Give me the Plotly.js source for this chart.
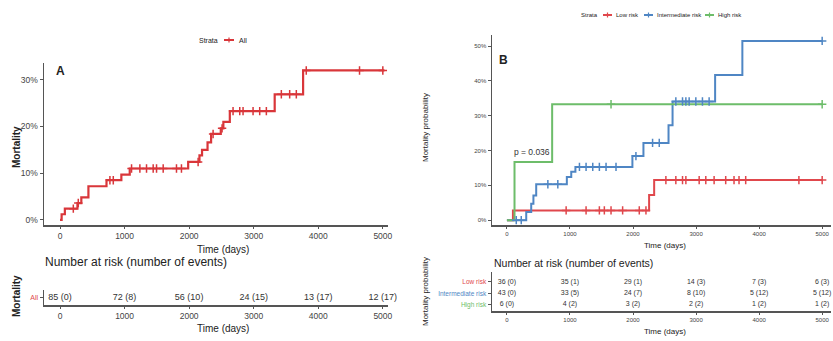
<!DOCTYPE html>
<html><head><meta charset="utf-8">
<script src="https://cdn.plot.ly/plotly-3.0.1.min.js"></script>
<style>html,body{margin:0;padding:0;background:#fff}#c{width:833px;height:341px}</style>
</head><body><div id="c"></div>
<script>
// ---------- DATA ----------
// Panel A: overall cumulative mortality (%)
const allTime = [0, 25, 75, 270, 330, 440, 720, 950, 1080, 1985, 2160, 2200, 2285, 2340, 2490, 2530, 2630, 3325, 3765, 5025];
const allMort = [0, 1.2, 2.4, 3.6, 4.8, 7.2, 8.5, 9.7, 11.0, 12.4, 13.8, 15.0, 16.6, 18.4, 19.6, 21.0, 23.3, 26.9, 32.0, 32.0];
const allCensor = [206, 283, 773, 825, 1108, 1237, 1340, 1443, 1495, 1598, 1804, 1881, 2139, 2371, 2510, 2680, 2784, 2835, 2990, 3093, 3196, 3428, 3557, 3660, 3814, 4639, 5000];

// Panel B: by risk group (%)
const lowTime = [0, 95, 2255, 2335, 5000];
const lowMort = [0, 2.8, 7.2, 11.5, 11.5];
const lowCensor = [939, 1255, 1466, 1545, 1651, 1835, 2099, 2205, 2521, 2679, 2785, 2838, 3049, 3154, 3286, 3470, 3602, 3681, 3787, 4631, 5000];

const intTime = [0, 306, 385, 420, 464, 950, 1020, 1086, 1990, 2165, 2563, 2627, 3302, 3734, 5000];
const intMort = [0, 2.3, 4.7, 7.1, 10.3, 12.4, 13.9, 15.3, 18.4, 22.2, 27.3, 34.1, 41.7, 51.5, 51.5];
const intCensor = [148, 227, 649, 807, 1150, 1255, 1361, 1466, 1572, 1730, 2046, 2310, 2416, 2679, 2785, 2838, 2890, 2996, 3101, 3207, 5000];

const highTime = [0, 120, 717, 5000];
const highMort = [0, 16.7, 33.3, 33.3];
const highCensor = [1651, 5000];

// Axis ticks
const timeTicks = [0, 1000, 2000, 3000, 4000, 5000];
const yTicksA = [0, 10, 20, 30];
const yTicksB = [0, 10, 20, 30, 40, 50];

// Risk tables
const riskTimes = [0, 1000, 2000, 3000, 4000, 5000];
const riskAll = ["85 (0)", "72 (8)", "56 (10)", "24 (15)", "13 (17)", "12 (17)"];
const riskLow = ["36 (0)", "35 (1)", "29 (1)", "14 (3)", "7 (3)", "6 (3)"];
const riskInt = ["43 (0)", "33 (5)", "24 (7)", "8 (10)", "5 (12)", "5 (12)"];
const riskHigh = ["6 (0)", "4 (2)", "3 (2)", "2 (2)", "1 (2)", "1 (2)"];
const groupNames = ["Low risk", "Intermediate risk", "High risk"];
const pText = "p = 0.036";
const pPos = [110, 19.3];

// ---------- STYLE ----------
const W = 833, H = 341;
const px = x => x / W, py = y => 1 - y / H;
const RED = '#e0474c', BLUE = '#4f86c4', GREEN = '#6dbd6a', RED_A = '#d9363a';
const FONT = 'Liberation Sans, Arial, sans-serif';
const AX = '#555';

function stepAt(ts, vs, t) { let v = vs[0]; for (let i = 0; i < ts.length; i++) if (ts[i] <= t) v = vs[i]; return v; }
function curve(ts, vs, col, xa, ya, w) {
  return {x: ts, y: vs, type: 'scatter', mode: 'lines', line: {shape: 'hv', color: col, width: w || 2},
          xaxis: xa, yaxis: ya, hoverinfo: 'skip', showlegend: false, cliponaxis: false};
}
function cens(cs, ts, vs, col, xa, ya) {
  return {x: cs, y: cs.map(t => stepAt(ts, vs, t)), type: 'scatter', mode: 'markers',
          marker: {symbol: 'cross-thin-open', size: 6, color: col, line: {color: col, width: 1.5}},
          xaxis: xa, yaxis: ya, hoverinfo: 'skip', showlegend: false, cliponaxis: false};
}
function riskRow(texts, row, xa, ya, size, col) {
  return {x: riskTimes, y: riskTimes.map(() => row), text: texts, type: 'scatter', mode: 'text',
          textposition: 'middle center', textfont: {family: FONT, size: size, color: col || '#333'},
          xaxis: xa, yaxis: ya, hoverinfo: 'skip', showlegend: false, cliponaxis: false};
}

const traces = [
  curve(allTime, allMort, RED_A, 'x', 'y', 2.2),
  cens(allCensor, allTime, allMort, RED_A, 'x', 'y'),
  curve(lowTime, lowMort, RED, 'x3', 'y3'),
  curve(intTime, intMort, BLUE, 'x3', 'y3'),
  curve(highTime, highMort, GREEN, 'x3', 'y3'),
  cens(lowCensor, lowTime, lowMort, RED, 'x3', 'y3'),
  cens(intCensor, intTime, intMort, BLUE, 'x3', 'y3'),
  cens(highCensor, highTime, highMort, GREEN, 'x3', 'y3'),
  {x: [pPos[0]], y: [pPos[1]], text: [pText], type: 'scatter', mode: 'text', textposition: 'middle right',
   textfont: {family: FONT, size: 8.5, color: '#333'}, xaxis: 'x3', yaxis: 'y3', hoverinfo: 'skip', showlegend: false},
  riskRow(riskAll, 0, 'x2', 'y2', 9),
  riskRow(riskLow, 2, 'x4', 'y4', 7),
  riskRow(riskInt, 1, 'x4', 'y4', 7),
  riskRow(riskHigh, 0, 'x4', 'y4', 7),
];

function xax(dom, range, fs, anchor) {
  return {domain: dom, range: range, anchor: anchor, showline: true, linecolor: AX, linewidth: 1.5, showgrid: false, zeroline: false,
          ticks: 'outside', ticklen: 2, tickcolor: AX, tickwidth: 1, tickvals: timeTicks,
          tickfont: {family: FONT, size: fs, color: '#444'}, fixedrange: true};
}
function yax(dom, range, fs, anchor, extra) {
  return Object.assign({domain: dom, range: range, anchor: anchor, showline: true, linecolor: AX, linewidth: 1.5, showgrid: false, zeroline: false,
          ticks: 'outside', ticklen: 3, tickcolor: AX, tickwidth: 1,
          tickfont: {family: FONT, size: fs, color: '#444'}, fixedrange: true}, extra || {});
}

const domA = [px(44), px(388)], domB = [px(492), px(831)];
const layout = {
  width: W, height: H, margin: {l: 0, r: 0, t: 0, b: 0}, paper_bgcolor: '#fff', plot_bgcolor: 'rgba(0,0,0,0)',
  showlegend: false, font: {family: FONT},
  xaxis: xax(domA, [-248, 5080], 8.5, 'y'),
  yaxis: yax([py(225), py(63)], [-1.1, 33.6], 8.5, 'x', {tickvals: yTicksA, ticktext: yTicksA.map(v => v + '%')}),
  xaxis2: xax(domA, [-248, 5080], 8.5, 'y2'),
  yaxis2: yax([py(305), py(290)], [-0.5, 0.5], 8, 'x2', {tickvals: [0], ticktext: ['All'], tickfont: {family: FONT, size: 7, color: RED}}),
  xaxis3: xax(domB, [-237, 5140], 6, 'y3'),
  yaxis3: yax([py(225), py(35)], [-1.4, 53.2], 6, 'x3', {tickvals: yTicksB, ticktext: yTicksB.map(v => v + '%')}),
  xaxis4: xax(domB, [-237, 5140], 6, 'y4'),
  yaxis4: yax([py(311), py(272)], [-0.55, 2.85], 6.5, 'x4', {tickvals: [2, 1, 0],
    ticktext: ['<span style="color:' + RED + '">' + groupNames[0] + '</span>',
               '<span style="color:' + BLUE + '">' + groupNames[1] + '</span>',
               '<span style="color:' + GREEN + '">' + groupNames[2] + '</span>']}),
  annotations: [],
  shapes: []
};

function ann(text, x, y, size, opts) {
  layout.annotations.push(Object.assign({text: text, x: px(x), y: py(y), xref: 'paper', yref: 'paper', showarrow: false,
    xanchor: 'center', yanchor: 'middle', font: {family: FONT, size: size, color: '#222'}}, opts || {}));
}
ann('<b>A</b>', 60, 71, 12);
ann('<b>B</b>', 504, 60, 12);
ann('Time (days)', 223, 249, 10);
ann('Time (days)', 223, 328, 10);
ann('Number at risk (number of events)', 43, 262, 12, {xanchor: 'left'});
ann('<b>Mortality</b>', 16, 147, 10, {textangle: -90});
ann('<b>Mortality</b>', 16, 296, 10, {textangle: -90});
ann('Time (days)', 665, 245, 8);
ann('Time (days)', 665, 331, 8);
ann('Number at risk (number of events)', 492, 263, 10.5, {xanchor: 'left'});
ann('Mortality probability', 425, 128, 8, {textangle: -90});
ann('Mortality probability', 425, 292, 8, {textangle: -90});

// legends
function key(x0, x1, y, col) {
  layout.shapes.push({type: 'line', xref: 'paper', yref: 'paper', x0: px(x0), x1: px(x1), y0: py(y), y1: py(y), line: {color: col, width: 2}});
  const xm = (x0 + x1) / 2;
  layout.shapes.push({type: 'line', xref: 'paper', yref: 'paper', x0: px(xm), x1: px(xm), y0: py(y - 2.5), y1: py(y + 2.5), line: {color: col, width: 1.2}});
}
ann('Strata', 220, 40, 7, {xanchor: 'right'});
key(224, 234, 40, RED_A);
ann('All', 237, 40, 7, {xanchor: 'left'});

ann('Strata', 600, 15, 6, {xanchor: 'right'});
key(603, 612, 15, RED);
ann(groupNames[0], 614, 15, 6, {xanchor: 'left'});
key(644, 653, 15, BLUE);
ann(groupNames[1], 655, 15, 6, {xanchor: 'left'});
key(705, 714, 15, GREEN);
ann(groupNames[2], 716, 15, 6, {xanchor: 'left'});

Plotly.newPlot('c', traces, layout, {staticPlot: true, displayModeBar: false});
</script></body></html>
